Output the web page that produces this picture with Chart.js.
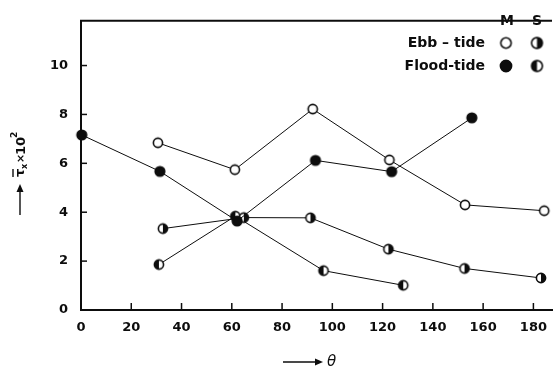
<!DOCTYPE html>
<html lang="en">
<head>
  <meta charset="UTF-8" />
  <title>Shear stress vs angle</title>
  <script src="https://cdn.jsdelivr.net/npm/chart.js"></script>
  <style>
    html,body{ margin:0; padding:0; background:#fff; }
    #plot{ display:block; }
  </style>
</head>
<body>
  <canvas id="plot" width="558" height="370"></canvas>

  <script>
    /* ---- data: theta (deg) vs mean stress x 10^2 ---- */
    const ebbM_x   = [30.6, 61.2, 92.2, 122.7, 152.8, 184.3];
    const ebbM_y   = [6.84, 5.74, 8.22, 6.14, 4.30, 4.06];
    const floodM_x = [0.3, 31.4, 62.1, 93.3, 123.6, 155.5];
    const floodM_y = [7.16, 5.67, 3.64, 6.12, 5.66, 7.86];
    const ebbS_x   = [32.6, 64.8, 91.3, 122.3, 152.6, 183.0];
    const ebbS_y   = [3.33, 3.78, 3.77, 2.49, 1.70, 1.31];
    const floodS_x = [31.0, 61.4, 96.5, 128.2];
    const floodS_y = [1.86, 3.84, 1.61, 1.01];

    const xTicks = [0, 20, 40, 60, 80, 100, 120, 140, 160, 180];
    const yTicks = [0, 2, 4, 6, 8, 10];

    const INK  = "#0d0d0d";
    const FONT = "DejaVu Sans";

    /* little marker bitmaps: open / full / half-filled circles */
    function marker(kind, r){
      const c = document.createElement("canvas");
      const size = Math.ceil(r * 2 + 4);
      c.width = c.height = size;
      const g = c.getContext("2d");
      g.translate(size/2, size/2);
      g.beginPath(); g.arc(0, 0, r, 0, Math.PI*2);
      g.fillStyle = kind === "full" ? INK : "#fff";
      g.fill();
      if(kind === "right" || kind === "left"){
        g.beginPath();
        if(kind === "right") g.arc(0, 0, r, -Math.PI/2, Math.PI/2);
        else                 g.arc(0, 0, r,  Math.PI/2, Math.PI*1.5);
        g.closePath(); g.fillStyle = INK; g.fill();
      }
      g.beginPath(); g.arc(0, 0, r, 0, Math.PI*2);
      g.lineWidth = 1.6; g.strokeStyle = INK; g.stroke();
      return c;
    }
    const MK  = { open:marker("open",4.6), full:marker("full",4.8), right:marker("right",4.6), left:marker("left",4.6) };
    const KEY = { open:marker("open",5.2), full:marker("full",5.6), right:marker("right",5.4), left:marker("left",5.4) };

    const pts = (xs, ys) => xs.map((x, i) => ({ x, y: ys[i] }));
    const series = (label, xs, ys, style) => ({
      label, data: pts(xs, ys), showLine: true,
      borderColor: INK, borderWidth: 1, pointStyle: style,
      pointRadius: 5, pointHoverRadius: 5, clip: false
    });

    /* inward ticks, top frame, axis titles and the M/S key */
    const decor = {
      id: "decor",
      afterDraw(chart){
        const { ctx, chartArea: a, scales: { x, y } } = chart;
        ctx.save();
        ctx.strokeStyle = INK; ctx.fillStyle = INK;

        // top frame line
        ctx.lineWidth = 2;
        ctx.beginPath(); ctx.moveTo(a.left - 1, a.top); ctx.lineTo(a.right, a.top); ctx.stroke();

        // ticks pointing into the plot
        ctx.lineWidth = 1.5;
        xTicks.forEach(v => {
          const px = x.getPixelForValue(v);
          ctx.beginPath(); ctx.moveTo(px, a.bottom); ctx.lineTo(px, a.bottom - 7); ctx.stroke();
        });
        yTicks.forEach(v => {
          const py = y.getPixelForValue(v);
          ctx.beginPath(); ctx.moveTo(a.left, py); ctx.lineTo(a.left + 6, py); ctx.stroke();
        });

        // x title: ---> theta
        ctx.lineWidth = 1.4;
        ctx.beginPath(); ctx.moveTo(283, 362); ctx.lineTo(318, 362); ctx.stroke();
        ctx.beginPath(); ctx.moveTo(323, 362); ctx.lineTo(315, 358.5); ctx.lineTo(315, 365.5); ctx.closePath(); ctx.fill();
        ctx.font = "italic 15px " + FONT;
        ctx.textBaseline = "middle"; ctx.textAlign = "left";
        ctx.fillText("θ", 327, 362);

        // y title, rotated: ---> tau_x x 10^2
        ctx.save();
        ctx.translate(20, 215);
        ctx.rotate(-Math.PI/2);
        ctx.lineWidth = 1.4;
        ctx.beginPath(); ctx.moveTo(0, 0); ctx.lineTo(26, 0); ctx.stroke();
        ctx.beginPath(); ctx.moveTo(31, 0); ctx.lineTo(23, -3.5); ctx.lineTo(23, 3.5); ctx.closePath(); ctx.fill();
        ctx.textBaseline = "alphabetic";
        ctx.font = "bold 13px " + FONT;
        ctx.fillText("τ", 38, 4);
        ctx.beginPath(); ctx.moveTo(38, -7); ctx.lineTo(46, -7); ctx.stroke();   // bar over tau
        ctx.font = "bold 8px " + FONT;
        ctx.fillText("x", 46, 7);
        ctx.font = "bold 11px " + FONT;
        ctx.fillText("×", 52, 4);
        ctx.font = "bold 13px " + FONT;
        ctx.fillText("10", 60, 5);
        ctx.font = "bold 9px " + FONT;
        ctx.fillText("2", 77, -3);
        ctx.restore();

        // key
        ctx.font = "bold 14px " + FONT;
        ctx.textBaseline = "middle";
        ctx.textAlign = "center";
        ctx.fillText("M", 507, 21);
        ctx.fillText("S", 537, 21);
        ctx.textAlign = "right";
        ctx.fillText("Ebb – tide", 485, 43);
        ctx.fillText("Flood-tide", 485, 66);
        const put = (img, cx, cy) => ctx.drawImage(img, cx - img.width/2, cy - img.height/2);
        put(KEY.open,  506, 43);
        put(KEY.right, 537, 43);
        put(KEY.full,  506, 66);
        put(KEY.left,  537, 66);

        ctx.restore();
      }
    };

    const tickFont = { family: FONT, size: 13, weight: "bold" };

    new Chart(document.getElementById("plot"), {
      type: "scatter",
      data: {
        datasets: [
          series("Ebb-tide M",   ebbM_x,   ebbM_y,   MK.open),
          series("Flood-tide M", floodM_x, floodM_y, MK.full),
          series("Ebb-tide S",   ebbS_x,   ebbS_y,   MK.right),
          series("Flood-tide S", floodS_x, floodS_y, MK.left)
        ]
      },
      options: {
        responsive: false,
        animation: false,
        layout: { padding: { top: 9, right: 0, left: 0, bottom: 0 } },
        plugins: { legend: { display: false }, tooltip: { enabled: false } },
        scales: {
          x: {
            type: "linear", min: 0, max: 187.4,
            afterBuildTicks: s => { s.ticks = xTicks.map(v => ({ value: v })); },
            afterFit: s => { s.height = 60; },
            grid: { display: false, drawTicks: false },
            border: { display: true, width: 2, color: INK },
            ticks: { color: INK, padding: 10, maxRotation: 0, font: tickFont }
          },
          y: {
            type: "linear", min: 0, max: 11.83,
            afterBuildTicks: s => { s.ticks = yTicks.map(v => ({ value: v })); },
            afterFit: s => { s.width = 81; },
            grid: { display: false, drawTicks: false },
            border: { display: true, width: 2, color: INK },
            ticks: { color: INK, padding: 13, font: tickFont }
          }
        }
      },
      plugins: [decor]
    });
  </script>
</body>
</html>
